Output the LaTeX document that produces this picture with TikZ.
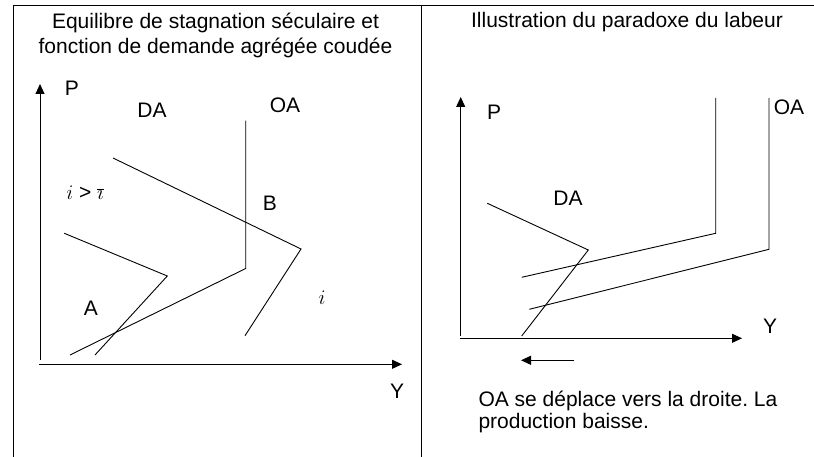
\documentclass[tikz,border=0pt]{standalone}
\usepackage{fontspec}
\setmainfont{Liberation Sans}
\usetikzlibrary{arrows.meta, positioning}
\frenchspacing
\tikzset{
  trait/.style={line width=0.9pt, black},
  axe/.style={trait, -{Triangle[length=10pt, width=9pt]}},
  courbe/.style={trait, line join=miter},
  cadre/.style={line width=0.8pt},
  etiq/.style={font=\fontsize{21}{25}\selectfont, inner sep=0pt},
  ligne/.style={etiq, anchor=base},
}

\begin{document}
\begin{tikzpicture}[x=1pt, y=-1pt]
  \useasboundingbox (0,0) rectangle (814,457);

  % cadre du tableau
  \coordinate (cbg) at (13,457);
  \coordinate (chg) at (13,5);
  \coordinate (chd) at (814,5);
  \coordinate (cmh) at (421.7,5);
  \coordinate (cmb) at (421.7,457);
  \draw[cadre] (cbg) -- (chg) -- (chd);
  \draw[cadre] (cmh) -- (cmb);

  % ---- panneau gauche ----
  \node[ligne] (titreA1) at (215.5,28.5) {Equilibre de stagnation séculaire et};
  \node[ligne] (titreA2) at (215.5,53.5) {fonction de demande agrégée coudée};

  \coordinate (oyA) at (40,360);
  \coordinate (pyA) at (40,84);
  \coordinate (oxA) at (39,364.3);
  \coordinate (pxA) at (402,364.3);
  \draw[axe] (oyA) -- (pyA);
  \draw[axe] (oxA) -- (pxA);

  \coordinate (oa1) at (245.7,120.7);
  \coordinate (oa2) at (245.7,268.5);
  \coordinate (oa3) at (70,355);
  \draw[courbe] (oa1) -- (oa2) -- (oa3);

  \coordinate (dh1) at (113,158);
  \coordinate (dh2) at (301,249);
  \coordinate (dh3) at (245,335.7);
  \draw[courbe] (dh1) -- (dh2) -- (dh3);

  \coordinate (db1) at (64.3,233.3);
  \coordinate (db2) at (167.3,276);
  \coordinate (db3) at (95,355);
  \draw[courbe] (db1) -- (db2) -- (db3);

  \node[etiq] (pA)  at (72,88)   {P};
  \node[etiq] (daA) at (152,110) {DA};
  \node[etiq] (oaA) at (285,105) {OA};
  \node[etiq] (ii)  at (85,193)  {$i$ > $\overline{\imath}$};
  \node[etiq] (ptB) at (270,203) {B};
  \node[etiq] (ptA) at (91,308)  {A};
  \node[etiq] (iA)  at (322,298) {$i$};
  \node[etiq] (yA)  at (397,391) {Y};

  % ---- panneau droit ----
  \node[ligne] (titreB) at (627,27.5) {Illustration du paradoxe du labeur};

  \coordinate (oyB) at (460.7,336);
  \coordinate (pyB) at (460.7,97);
  \coordinate (oxB) at (460,338.3);
  \coordinate (pxB) at (742,338.3);
  \draw[axe] (oyB) -- (pyB);
  \draw[axe] (oxB) -- (pxB);

  \coordinate (ob1) at (715.7,98);
  \coordinate (ob2) at (715.7,233.3);
  \coordinate (ob3) at (521.7,277.3);
  \draw[courbe] (ob1) -- (ob2) -- (ob3);

  \coordinate (oc1) at (769,98);
  \coordinate (oc2) at (769,249.3);
  \coordinate (oc3) at (529.3,309.3);
  \draw[courbe] (oc1) -- (oc2) -- (oc3);

  \coordinate (dd1) at (487.3,203.3);
  \coordinate (dd2) at (588.3,250);
  \coordinate (dd3) at (521.7,336);
  \draw[courbe] (dd1) -- (dd2) -- (dd3);

  \coordinate (fl1) at (574.3,360.3);
  \coordinate (fl2) at (521,360.3);
  \draw[axe] (fl1) -- (fl2);

  \node[etiq] (pB)  at (494,112) {P};
  \node[etiq] (oaB) at (789,107) {OA};
  \node[etiq] (daB) at (568,198) {DA};
  \node[etiq] (yB)  at (770,326) {Y};

  \node[ligne, anchor=base west] (leg1) at (478.3,406.7) {OA se déplace vers la droite. La};
  \node[ligne, anchor=base west] (leg2) at (478.3,428.4) {production baisse.};
\end{tikzpicture}
\end{document}
